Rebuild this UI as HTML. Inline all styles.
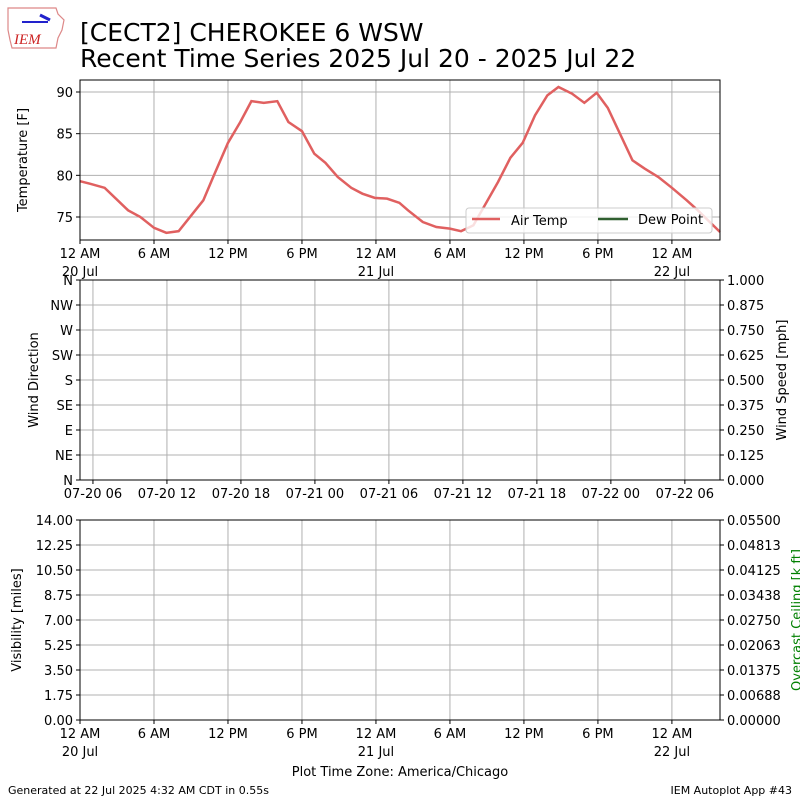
<!DOCTYPE html>
<html><head><meta charset="utf-8"><style>
body{margin:0;background:#fff}
svg text{font-family:"DejaVu Sans","Liberation Sans",sans-serif;fill:#000}
</style></head><body>
<svg width="800" height="800" viewBox="0 0 800 800" xmlns="http://www.w3.org/2000/svg">
<g>
<path d="M8,8 L56,8 L58,14 L64,20 L62,30 L58,38 L56,48 L12,48 L10,40 L8,30 Z" fill="#fff" stroke="#d88" stroke-width="1.2"/>
<line x1="22" y1="22" x2="48" y2="22" stroke="#22c" stroke-width="2"/>
<line x1="40" y1="15" x2="50" y2="20" stroke="#22c" stroke-width="3"/>
<text x="14" y="44" font-size="15" font-style="italic" style="fill:#c22;font-family:'Liberation Serif',serif">IEM</text>
</g>
<text x="80" y="41" font-size="25">[CECT2] CHEROKEE 6 WSW</text>
<text x="80" y="67" font-size="25">Recent Time Series 2025 Jul 20 - 2025 Jul 22</text>
<g id="topPanel"></g>
<g id="midPanel"></g>
<g id="botPanel"></g>
<text x="400" y="776" font-size="13" text-anchor="middle">Plot Time Zone: America/Chicago</text>
<text x="8" y="794" font-size="11">Generated at 22 Jul 2025 4:32 AM CDT in 0.55s</text>
<text x="792" y="794" font-size="11" text-anchor="end">IEM Autoplot App #43</text>
</svg>
<script>
const hours=[0,0.8,2.0,3.9,4.9,6.0,7.0,8.0,10.0,10.8,12.0,13.0,13.9,14.9,16.0,16.9,18.0,19.0,19.9,20.9,22.0,22.9,23.9,24.9,25.9,26.6,27.8,28.9,30.0,30.9,31.9,33.9,34.9,35.9,36.9,37.9,38.8,39.9,40.9,41.9,42.8,44.8,45.8,46.9,48.0,49.2,50.1,51.9];
const temps=[79.3,79.0,78.5,75.8,75.0,73.7,73.1,73.3,77.0,79.8,83.9,86.4,88.9,88.7,88.9,86.4,85.3,82.6,81.5,79.8,78.5,77.8,77.3,77.2,76.7,75.8,74.4,73.8,73.6,73.3,74.0,79.2,82.1,83.9,87.2,89.6,90.6,89.8,88.7,89.9,88.1,81.8,80.8,79.8,78.5,77.0,75.8,73.2];
const timeTicks=[0,6,12,18,24,30,36,42,48];
const timeLabels=["12 AM","6 AM","12 PM","6 PM","12 AM","6 AM","12 PM","6 PM","12 AM"];
const dateLabels={0:"20 Jul",24:"21 Jul",48:"22 Jul"};
const tempTicks=[75,80,85,90];
const windTicks=["N","NE","E","SE","S","SW","W","NW","N"];
const windSpeedTicks=["0.000","0.125","0.250","0.375","0.500","0.625","0.750","0.875","1.000"];
const midTickHours=[1.05,7.05,13.05,19.05,25.05,31.05,37.05,43.05,49.05];
const midTickLabels=["07-20 06","07-20 12","07-20 18","07-21 00","07-21 06","07-21 12","07-21 18","07-22 00","07-22 06"];
const visTicks=["0.00","1.75","3.50","5.25","7.00","8.75","10.50","12.25","14.00"];
const ceilTicks=["0.00000","0.00688","0.01375","0.02063","0.02750","0.03438","0.04125","0.04813","0.05500"];
const NS="http://www.w3.org/2000/svg";
function mk(p,t,a,txt){const e=document.createElementNS(NS,t);for(const k in a)e.setAttribute(k,a[k]);if(txt!==undefined)e.textContent=txt;p.appendChild(e);return e;}
const X0=80,X1=720,HMAX=51.9;
const xs=h=>X0+(h/HMAX)*(X1-X0);
const topG=document.getElementById('topPanel');
const yT=v=>92+(90-v)*(125/15);
timeTicks.forEach((h,i)=>{let l=mk(topG,'line',{x1:xs(h),x2:xs(h),y1:80,y2:240,stroke:'#b0b0b0'});


mk(topG,'line',{x1:xs(h),x2:xs(h),y1:240,y2:244,stroke:'#000'});
let t=mk(topG,'text',{x:xs(h),y:258,'font-size':13,'text-anchor':'middle'},timeLabels[i]);


if(dateLabels[h]){let d=mk(topG,'text',{x:xs(h),y:276,'font-size':13,'text-anchor':'middle'},dateLabels[h]);

}});
tempTicks.forEach(v=>{let l=mk(topG,'line',{x1:80,x2:720,y1:yT(v),y2:yT(v),stroke:'#b0b0b0'});


mk(topG,'line',{x1:76,x2:80,y1:yT(v),y2:yT(v),stroke:'#000'});
let t=mk(topG,'text',{x:73,y:yT(v)+5,'font-size':13,'text-anchor':'end'},v);

});
let pl=mk(topG,'polyline',{points:hours.map((h,i)=>xs(h)+','+yT(temps[i])).join(' '),fill:'none',stroke:'#e06060','stroke-width':2.5});


let lg=mk(topG,'g',{});


mk(lg,'rect',{x:466,y:208,width:246,height:25,rx:3,fill:'rgba(255,255,255,0.8)',stroke:'#ccc'});
mk(lg,'line',{x1:472,x2:500,y1:219,y2:219,stroke:'#e06060','stroke-width':2.5});
mk(lg,'text',{x:511,y:225,'font-size':13},'Air Temp');
mk(lg,'line',{x1:598,x2:628,y1:219,y2:219,stroke:'#2f5f2f','stroke-width':2.5});
mk(lg,'text',{x:638,y:224,'font-size':13},'Dew Point');
mk(topG,'rect',{x:80,y:80,width:640,height:160,fill:'none',stroke:'#000'});
let yl=mk(topG,'text',{x:27,y:160,'font-size':13,'text-anchor':'middle',transform:'rotate(-90 27 160)'},'Temperature [F]');


const midG=document.getElementById('midPanel');
midTickHours.forEach((h,i)=>{mk(midG,'line',{x1:xs(h),x2:xs(h),y1:280,y2:480,stroke:'#b0b0b0'});mk(midG,'line',{x1:xs(h),x2:xs(h),y1:480,y2:484,stroke:'#000'});
let t=mk(midG,'text',{x:xs(h),y:498,'font-size':13,'text-anchor':'middle'},midTickLabels[i]);

});
windTicks.forEach((s,i)=>{const y=480-i*25;mk(midG,'line',{x1:80,x2:720,y1:y,y2:y,stroke:'#b0b0b0'});mk(midG,'line',{x1:76,x2:80,y1:y,y2:y,stroke:'#000'});mk(midG,'line',{x1:720,x2:724,y1:y,y2:y,stroke:'#000'});
let t=mk(midG,'text',{x:73,y:y+5,'font-size':13,'text-anchor':'end'},s);


let r=mk(midG,'text',{x:727,y:y+5,'font-size':13},windSpeedTicks[i]);

});
mk(midG,'rect',{x:80,y:280,width:640,height:200,fill:'none',stroke:'#000'});
mk(midG,'text',{x:38,y:380,'font-size':13,'text-anchor':'middle',transform:'rotate(-90 38 380)'},'Wind Direction');
mk(midG,'text',{x:786,y:380,'font-size':13,'text-anchor':'middle',transform:'rotate(-90 786 380)'},'Wind Speed [mph]');
const botG=document.getElementById('botPanel');
timeTicks.forEach((h,i)=>{mk(botG,'line',{x1:xs(h),x2:xs(h),y1:520,y2:720,stroke:'#b0b0b0'});mk(botG,'line',{x1:xs(h),x2:xs(h),y1:720,y2:724,stroke:'#000'});
let t=mk(botG,'text',{x:xs(h),y:738,'font-size':13,'text-anchor':'middle'},timeLabels[i]);


if(dateLabels[h])mk(botG,'text',{x:xs(h),y:756,'font-size':13,'text-anchor':'middle'},dateLabels[h]);});
visTicks.forEach((s,i)=>{const y=720-i*25;mk(botG,'line',{x1:80,x2:720,y1:y,y2:y,stroke:'#b0b0b0'});mk(botG,'line',{x1:76,x2:80,y1:y,y2:y,stroke:'#000'});mk(botG,'line',{x1:720,x2:724,y1:y,y2:y,stroke:'#000'});
let t=mk(botG,'text',{x:73,y:y+5,'font-size':13,'text-anchor':'end'},s);


let r=mk(botG,'text',{x:727,y:y+5,'font-size':13},ceilTicks[i]);

});
mk(botG,'rect',{x:80,y:520,width:640,height:200,fill:'none',stroke:'#000'});
mk(botG,'text',{x:21,y:620,'font-size':13,'text-anchor':'middle',transform:'rotate(-90 21 620)'},'Visibility [miles]');
mk(botG,'text',{x:801,y:620,'font-size':13,'text-anchor':'middle',transform:'rotate(-90 801 620)',style:'fill:green'},'Overcast Ceiling [k ft]');
</script>
</body></html>
